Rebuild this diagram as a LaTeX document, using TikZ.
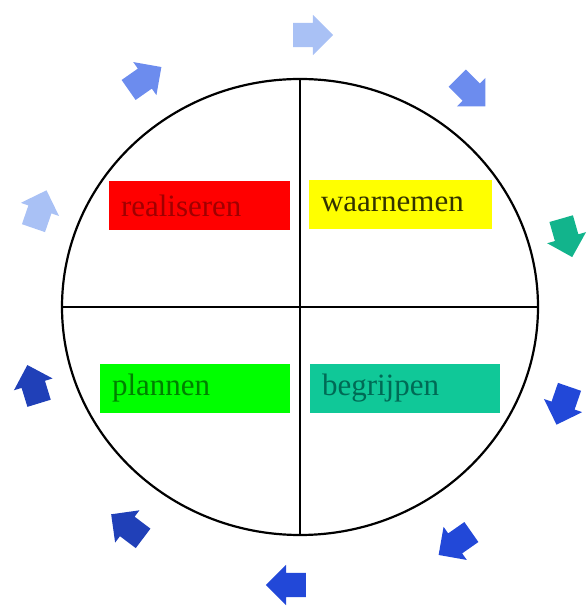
\documentclass[tikz,border=0pt]{standalone}
\usepackage{fontspec}
\setmainfont{Liberation Serif}
\usetikzlibrary{shapes.arrows}

\definecolor{boxred}{HTML}{FF0000}
\definecolor{boxyellow}{HTML}{FFFF00}
\definecolor{boxgreen}{HTML}{00FF00}
\definecolor{boxteal}{HTML}{10C898}
\definecolor{txtred}{HTML}{A00000}
\definecolor{txtyellow}{HTML}{333300}
\definecolor{txtgreen}{HTML}{008000}
\definecolor{txtteal}{HTML}{006A55}
\definecolor{arlight}{HTML}{A9C1F5}
\definecolor{armid}{HTML}{6C8CEE}
\definecolor{arteal}{HTML}{12B48C}
\definecolor{ardark}{HTML}{2248D8}
\definecolor{ardeep}{HTML}{2040B8}

\tikzset{
  field/.style={rectangle, minimum height=49pt, inner xsep=12pt, align=left,
    font=\fontsize{31}{31}\selectfont, anchor=center},
  turn/.style={single arrow, draw=none, minimum height=40pt, inner xsep=0pt,
    inner ysep=12pt, single arrow head extend=8pt}
}

\begin{document}
\begin{tikzpicture}[x=1pt, y=1pt]
				\useasboundingbox (0,0) rectangle (588,611);
				
				\draw[line width=2.2pt] (300,304) ellipse [x radius=238, y radius=228];
				\coordinate (n) at (300,532);
				\coordinate (s) at (300,76);
				\coordinate (w) at (62,304);
				\coordinate (e) at (538,304);
				\draw[line width=2.2pt] (n) -- (s);
				\draw[line width=2.2pt] (w) -- (e);
				
				\node[field, fill=boxred, text=txtred, minimum width=181pt, text width=157pt] (real) at (199.5,405.5) {realiseren};
				\node[field, fill=boxyellow, text=txtyellow, minimum width=183pt, text width=159pt] (waar) at (400.5,406.5) {waarnemen};
				\node[field, fill=boxgreen, text=txtgreen, minimum width=190pt, text width=166pt] (plan) at (195,222.5) {plannen};
				\node[field, fill=boxteal, text=txtteal, minimum width=190pt, text width=166pt] (begr) at (405,222.5) {begrijpen};
				
				\node[turn, fill=arlight, rotate=0] (a1) at (307,576) {};
				\node[turn, fill=armid, rotate=-45] (a2) at (467,523) {};
				\node[turn, fill=arteal, rotate=-74] (a3) at (565,379) {};
				\node[turn, fill=ardark, rotate=-109] (a4) at (565,211) {};
				\node[turn, fill=ardark, rotate=-145] (a5) at (460,71) {};
				\node[turn, fill=ardark, rotate=180] (a6) at (292,26) {};
				\node[turn, fill=ardeep, rotate=143] (a7) at (132,81) {};
				\node[turn, fill=ardeep, rotate=107] (a8) at (35,221) {};
				\node[turn, fill=arlight, rotate=71] (a9) at (38,396) {};
				\node[turn, fill=armid, rotate=35] (a10) at (140,529) {};
			\end{tikzpicture}
\end{document}
